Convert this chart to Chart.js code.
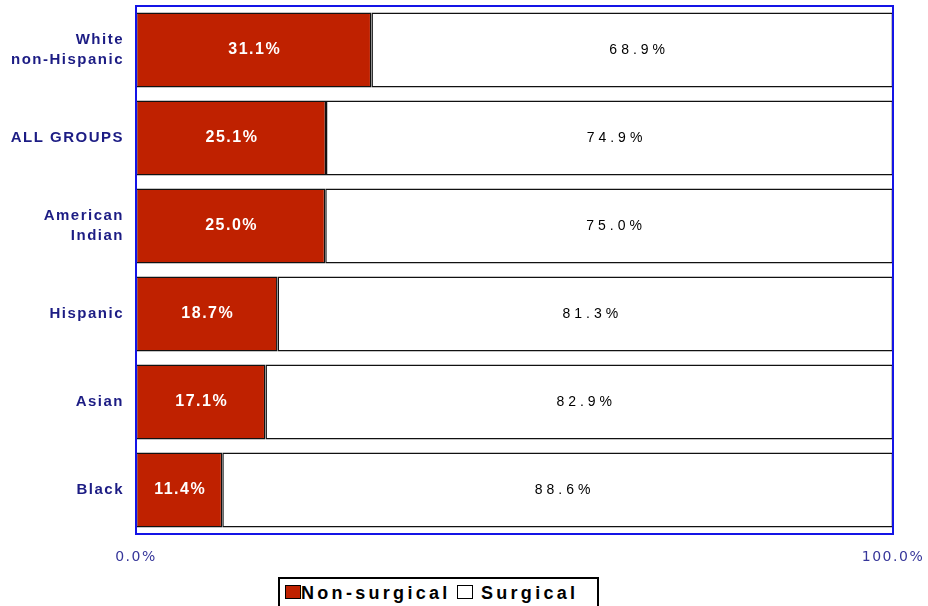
<!DOCTYPE html>
<html lang="en">
  <head>
    <meta charset="UTF-8">
    <title>Non-surgical vs surgical</title>
    <script src="https://cdn.jsdelivr.net/npm/chart.js"></script>
    <style>
      body { margin: 0; background: #fff; }
      .wrap { position: relative; width: 928px; height: 606px; overflow: hidden; }
      .legend {
        position: absolute; left: 278px; top: 577px; width: 321px; height: 34px;
        border: 2px solid #000; box-sizing: border-box; background: #fff;
        font: bold 18px "Liberation Sans", Arial, sans-serif; letter-spacing: 3.3px;
        padding: 4px 0 0 5px; white-space: nowrap; color: #000;
      }
      .legend i { display: inline-block; width: 14px; height: 12px; border: 1.5px solid #000; vertical-align: 0px; margin-right: 0; }
    </style>
  </head>
  <body>
    <div class="wrap">
      <canvas id="myChart"></canvas>
      <div class="legend"><i style="background:#bf2100"></i>Non-surgical<i style="background:#fff;margin-left:6px"></i> Surgical</div>
    </div>

    <script>
      const groups = [['White', 'non-Hispanic'], 'ALL GROUPS', ['American', 'Indian'], 'Hispanic', 'Asian', 'Black'];
      const nonSurgical = [31.1, 25.1, 25.0, 18.7, 17.1, 11.4];
      const surgical = [68.9, 74.9, 75.0, 81.3, 82.9, 88.6];
      const xTicks = [0, 100];

      // labels inside the bars + blue frame round the plot
      const barText = {
        id: 'barText',
        beforeDraw(chart) { chart.ctx.letterSpacing = '1.5px'; },
        afterDatasetsDraw(chart) {
          const ctx = chart.ctx;
          ctx.save();
          ctx.textAlign = 'center';
          ctx.textBaseline = 'middle';
          chart.data.datasets.forEach((ds, i) => {
            chart.getDatasetMeta(i).data.forEach((bar, j) => {
              let x = (bar.x + bar.base) / 2;
              if (i === 0) {
                ctx.font = 'bold 16px "Liberation Sans", Arial, sans-serif';
                ctx.fillStyle = '#fff';
                ctx.letterSpacing = '1.5px';
                x += 1;
              } else {
                ctx.font = '14px "Liberation Sans", Arial, sans-serif';
                ctx.fillStyle = '#000';
                ctx.letterSpacing = '4px';
                x += 7;
              }
              ctx.fillText(ds.data[j].toFixed(1) + '%', x, bar.y);
            });
          });
          ctx.restore();
        },
        afterDraw(chart) {
          const a = chart.chartArea, ctx = chart.ctx;
          ctx.save();
          ctx.strokeStyle = '#1414e6';
          ctx.lineWidth = 2;
          ctx.strokeRect(a.left, a.top, a.right - a.left, a.bottom - a.top);
          ctx.restore();
        }
      };

      new Chart(document.getElementById('myChart'), {
        type: 'bar',
        data: {
          labels: groups,
          datasets: [{
            label: 'Non-surgical',
            data: nonSurgical,
            backgroundColor: '#bf2100',
            borderColor: '#111',
            borderWidth: 1.5,
            borderSkipped: false
          }, {
            label: 'Surgical',
            data: surgical,
            backgroundColor: '#fff',
            borderColor: '#111',
            borderWidth: 1.5,
            borderSkipped: false
          }]
        },
        options: {
          indexAxis: 'y',
          responsive: true,
          maintainAspectRatio: false,
          animation: false,
          barPercentage: 0.85,
          categoryPercentage: 1,
          layout: { padding: { top: 6, right: 35, left: 0, bottom: 0 } },
          plugins: {
            legend: { display: false },
            tooltip: { enabled: false }
          },
          scales: {
            x: {
              stacked: true,
              min: 0,
              max: 100,
              afterBuildTicks(scale) { scale.ticks = xTicks.map(v => ({ value: v })); },
              afterFit(scale) {
                scale.height = 72;
                scale.paddingLeft = 0;
                scale.paddingRight = 0;
              },
              grid: { display: false, drawTicks: false },
              border: { display: false },
              ticks: {
                padding: 15,
                color: '#36369a',
                font: { family: 'DejaVu Sans', size: 14 },
                callback: v => v.toFixed(1) + '%'
              }
            },
            y: {
              stacked: true,
              afterFit(scale) {
                scale.width = 136;
                scale.paddingTop = 0;
                scale.paddingBottom = 0;
              },
              grid: { display: false, drawTicks: false },
              border: { display: false },
              ticks: {
                padding: 12,
                color: '#1c1c84',
                font: { family: 'Liberation Sans', size: 15, weight: 'bold', lineHeight: 1.3 }
              }
            }
          }
        },
        plugins: [barText]
      });
    </script>
  </body>
</html>
